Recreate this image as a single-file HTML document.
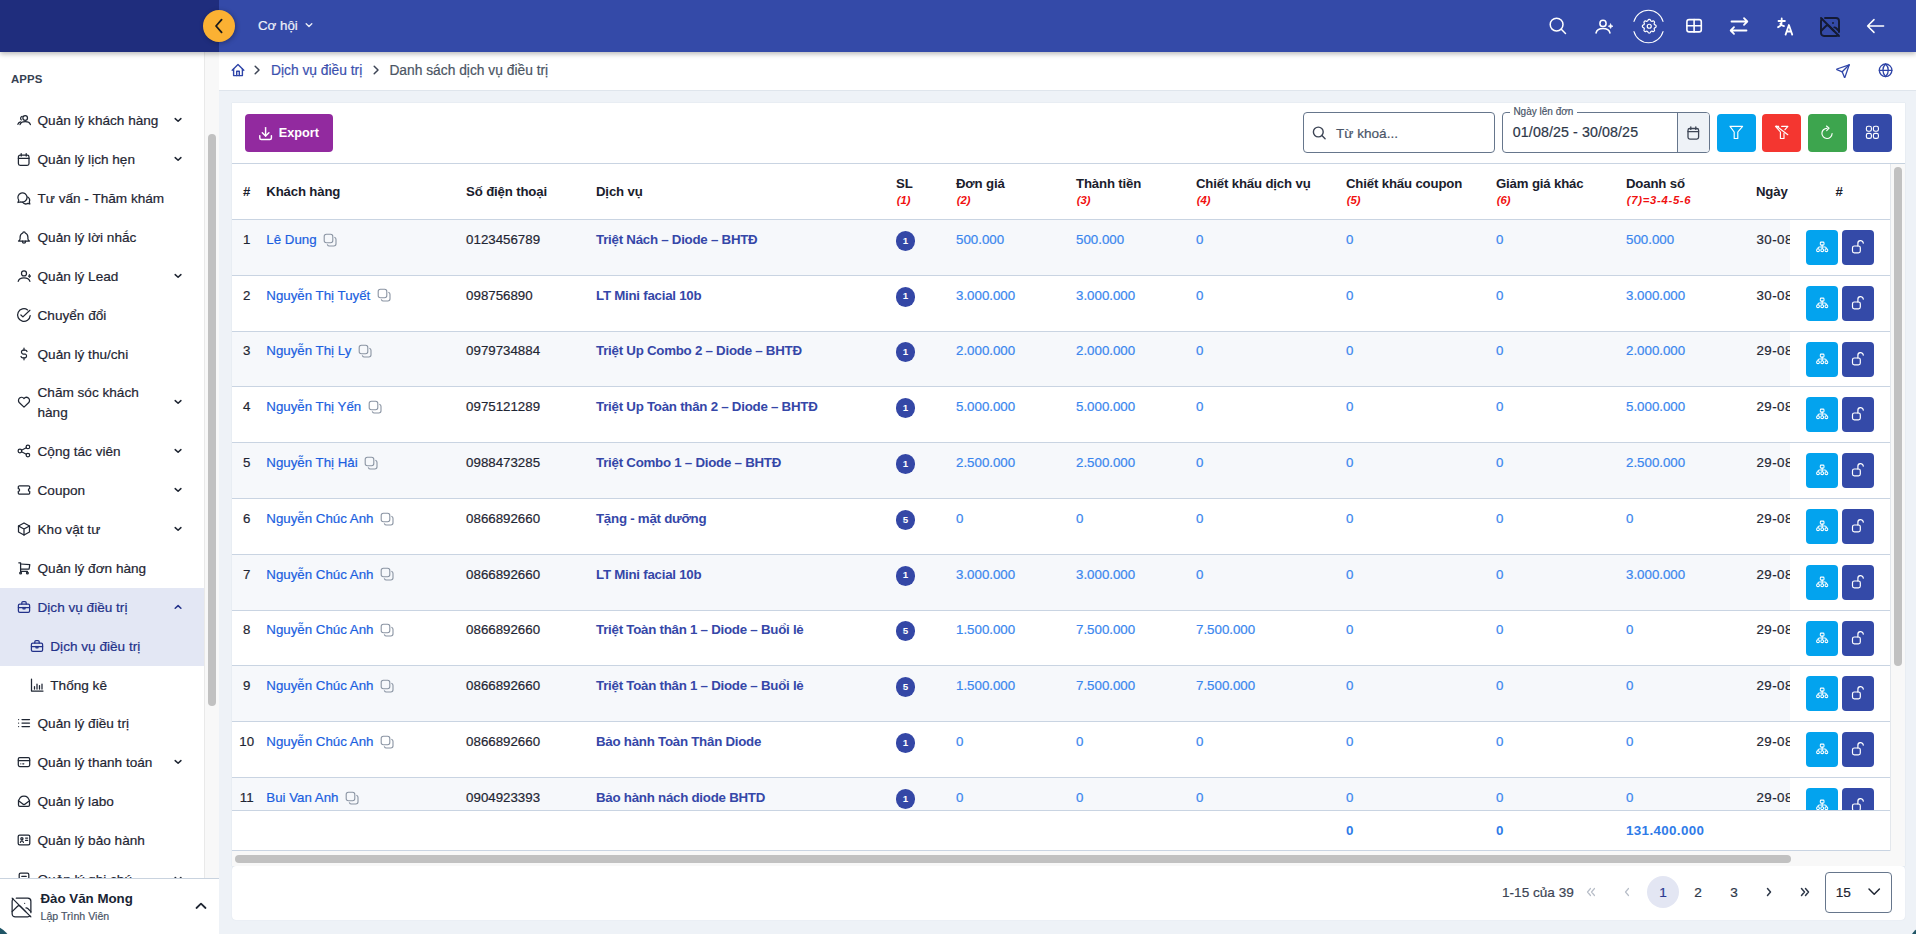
<!DOCTYPE html>
<html><head><meta charset="utf-8"><title>Dịch vụ điều trị</title>
<style>
html,body{margin:0;padding:0;}
body{width:1916px;height:934px;position:relative;overflow:hidden;background:#eef2f7;font-family:"Liberation Sans",sans-serif;}
.t{position:absolute;white-space:nowrap;}
.r{-webkit-text-stroke:0.2px currentColor;}
.i{position:absolute;overflow:visible;}
</style></head><body>
<div style="position:absolute;left:0;top:0;width:1916px;height:52px;background:#344aa8;box-shadow:0 2px 5px rgba(0,0,0,.28);z-index:5"></div>
<div style="position:absolute;left:0;top:0;width:219px;height:52px;background:#1f2d7d;z-index:6"></div>
<div style="position:absolute;left:203px;top:10px;width:32px;height:32px;border-radius:50%;background:#fbb133;box-shadow:1px 1px 5px rgba(0,0,0,.3);z-index:8"></div>
<svg class="i" style="left:203px;top:10px;width:32px;height:32px;color:#1b1b1b;z-index:9" viewBox="0 0 32 32" fill="none" stroke="currentColor" stroke-width="1.8" stroke-linecap="round" stroke-linejoin="round"><path d="M18.6 9.6L13 16l5.6 6.4"/></svg>
<div class="t r" style="left:258px;top:16.39px;font-size:13.3px;line-height:20px;color:#eef0f8;font-weight:400;z-index:7">Cơ hội</div>
<svg class="i" style="left:300px;top:18px;width:16px;height:16px;color:#e8ebf5;z-index:7" viewBox="0 0 16 16" fill="none" stroke="currentColor" stroke-width="1.4" stroke-linecap="round" stroke-linejoin="round"><path d="M6.2 5.8l2.8 2.8l2.8 -2.8"/></svg>
<svg class="i" style="left:1546px;top:14px;width:24px;height:24px;color:#ffffff;z-index:7" viewBox="0 0 24 24" fill="none" stroke="currentColor" stroke-width="1.5" stroke-linecap="round" stroke-linejoin="round"><circle cx="10.6" cy="10.6" r="6.4"/><path d="M15.3 15.3l4.2 4.2"/></svg>
<svg class="i" style="left:1592px;top:14px;width:24px;height:24px;color:#ffffff;z-index:7" viewBox="0 0 24 24" fill="none" stroke="currentColor" stroke-width="1.5" stroke-linecap="round" stroke-linejoin="round"><circle cx="11" cy="9.4" r="3.1"/><path d="M4 19c.7 -3 3.4 -4.5 7 -4.5s6.3 1.5 7 4.5"/><path d="M18.6 10l.7 1.6l1.6 .6l-1.6 .6l-.7 1.6l-.7 -1.6l-1.6 -.6l1.6 -.6z" fill="currentColor" stroke-width=".8"/></svg>
<svg class="i" style="left:1632px;top:10px;width:33px;height:33px;color:#ffffff;z-index:7" viewBox="0 0 33 33" fill="none" stroke="currentColor" stroke-width="1.1" stroke-linecap="round" stroke-linejoin="round"><path d="M2 11.4A15 15 0 0 1 31 11.4"/><path d="M31 21.6A15 15 0 0 1 2 21.6"/></svg>
<svg class="i" style="left:1639.5px;top:17px;width:18.5px;height:18.5px;color:#ffffff;z-index:7" viewBox="0 0 24 24" fill="none" stroke="currentColor" stroke-width="1.6" stroke-linecap="round" stroke-linejoin="round"><path d="M10.325 4.317c.426 -1.756 2.924 -1.756 3.35 0a1.724 1.724 0 0 0 2.573 1.066c1.543 -.94 3.31 .826 2.37 2.37a1.724 1.724 0 0 0 1.065 2.572c1.756 .426 1.756 2.924 0 3.35a1.724 1.724 0 0 0 -1.066 2.573c.94 1.543 -.826 3.31 -2.37 2.37a1.724 1.724 0 0 0 -2.572 1.065c-.426 1.756 -2.924 1.756 -3.35 0a1.724 1.724 0 0 0 -2.573 -1.066c-1.543 .94 -3.31 -.826 -2.37 -2.37a1.724 1.724 0 0 0 -1.065 -2.572c-1.756 -.426 -1.756 -2.924 0 -3.35a1.724 1.724 0 0 0 1.066 -2.573c-.94 -1.543 .826 -3.31 2.37 -2.37c1 .608 2.296 .07 2.572 -1.065z"/><circle cx="12" cy="12" r="2.6"/></svg>
<svg class="i" style="left:1684px;top:16px;width:20px;height:20px;color:#ffffff;z-index:7" viewBox="0 0 20 20" fill="none" stroke="currentColor" stroke-width="1.6" stroke-linecap="round" stroke-linejoin="round"><rect x="2.9" y="3.6" width="14.4" height="12.3" rx="2.2"/><path d="M2.9 9.75h14.4M10.1 3.6v12.3"/></svg>
<svg class="i" style="left:1729px;top:16px;width:20px;height:20px;color:#ffffff;z-index:7" viewBox="0 0 20 20" fill="none" stroke="currentColor" stroke-width="1.8" stroke-linecap="round" stroke-linejoin="round"><path d="M18 5.5h-15.5M15 2.2l3.3 3.3l-3.3 3.3M2 14.5h15.5M5 11.2l-3.3 3.3l3.3 3.3"/></svg>
<svg class="i" style="left:1777px;top:16.5px;width:20px;height:22px;color:#ffffff;z-index:7" viewBox="0 0 20 22" fill="none" stroke="currentColor" stroke-width="1.8" stroke-linecap="round" stroke-linejoin="round"><path d="M1.5 4h6.4M4.7 1.5v2.5c0 3 -1.4 5.4 -3.6 6.2"/><path d="M3.4 6.6c.6 1.4 2.2 2.2 3.6 2.5"/><path d="M8.6 17.6l3.3 -9.6l3.3 9.6M9.7 14.5h4.4"/></svg>
<svg class="i" style="left:1817.5px;top:14.5px;width:24px;height:24px;color:#141a33;z-index:7" viewBox="0 0 24 24" fill="none" stroke="currentColor" stroke-width="1.9" stroke-linecap="round" stroke-linejoin="round"><path d="M15 8h.01"/><path d="M7 3h11a3 3 0 0 1 3 3v11m-.856 3.099a2.991 2.991 0 0 1 -2.144 .901h-12a3 3 0 0 1 -3 -3v-12c0 -.845 .349 -1.608 .91 -2.153"/><path d="M3 16l5 -5c.928 -.893 2.072 -.893 3 0l5 5"/><path d="M16.33 12.338c.574 -.054 1.155 .166 1.67 .662l3 3"/><path d="M3 3l18 18"/></svg>
<svg class="i" style="left:1866px;top:16px;width:20px;height:20px;color:#ffffff;z-index:7" viewBox="0 0 20 20" fill="none" stroke="currentColor" stroke-width="1.5" stroke-linecap="round" stroke-linejoin="round"><path d="M1.6 10h16M1.6 10l6.4 6.4M1.6 10l6.4 -6.4"/></svg>
<div style="position:absolute;left:0;top:52px;width:219px;height:882px;background:#fff;z-index:2"></div>
<div style="position:absolute;left:204px;top:52px;width:15px;height:826px;background:#f8f8f8;border-left:1px solid #e9e9e9;box-sizing:border-box;z-index:3"></div>
<div style="position:absolute;left:208px;top:134px;width:8px;height:572px;background:#c1c1c1;border-radius:4px;z-index:3"></div>
<div class="t" style="left:11px;top:70.65px;font-size:11.4px;line-height:17px;color:#364152;font-weight:700;z-index:3;letter-spacing:.1px">APPS</div>
<div style="position:absolute;left:0;top:588px;width:204px;height:77.6px;background:#e3e7f4;z-index:3"></div>
<svg class="i" style="left:17px;top:113.0px;width:14px;height:14px;color:#1f2633;z-index:4" viewBox="0 0 14 14" fill="none" stroke="currentColor" stroke-width="1.25" stroke-linecap="round" stroke-linejoin="round"><circle cx="8.2" cy="5" r="2.3"/><path d="M3 11.6c.6 -1.8 2.6 -2.9 5.2 -2.9s4.6 1.1 5.2 2.9"/><path d="M5.2 3.3a2.1 2.1 0 0 0 -.9 3.6"/><path d="M.9 11.3c.4 -1.2 1.4 -2 2.6 -2.4"/></svg>
<div class="t r" style="left:37.5px;top:111.09px;font-size:13.6px;line-height:20px;color:#1f2633;font-weight:400;z-index:4">Quản lý khách hàng</div>
<svg class="i" style="left:172px;top:114.0px;width:12px;height:12px;color:#1f2633;z-index:4" viewBox="0 0 12 12" fill="none" stroke="currentColor" stroke-width="1.5" stroke-linecap="round" stroke-linejoin="round"><path d="M3.2 4.6l2.9 2.7l2.8 -2.7"/></svg>
<svg class="i" style="left:17px;top:152.0px;width:14px;height:14px;color:#1f2633;z-index:4" viewBox="0 0 14 14" fill="none" stroke="currentColor" stroke-width="1.25" stroke-linecap="round" stroke-linejoin="round"><rect x="1.4" y="3.2" width="10.6" height="10.2" rx="1.8"/><path d="M1.4 6.4h10.6M4.2 1.6v2.4M9.2 1.6v2.4"/></svg>
<div class="t r" style="left:37.5px;top:150.09px;font-size:13.6px;line-height:20px;color:#1f2633;font-weight:400;z-index:4">Quản lý lịch hẹn</div>
<svg class="i" style="left:172px;top:153.0px;width:12px;height:12px;color:#1f2633;z-index:4" viewBox="0 0 12 12" fill="none" stroke="currentColor" stroke-width="1.5" stroke-linecap="round" stroke-linejoin="round"><path d="M3.2 4.6l2.9 2.7l2.8 -2.7"/></svg>
<svg class="i" style="left:17px;top:191.0px;width:14px;height:14px;color:#1f2633;z-index:4" viewBox="0 0 14 14" fill="none" stroke="currentColor" stroke-width="1.25" stroke-linecap="round" stroke-linejoin="round"><path d="M1 11.5l.8 -2.2a4.6 4.6 0 1 1 2 1.5z"/><path d="M5.5 11.2a4.2 4.2 0 0 0 5.3 1.2l2 .6l-.5 -2a4.2 4.2 0 0 0 -1.6 -5.1"/></svg>
<div class="t r" style="left:37.5px;top:189.09px;font-size:13.6px;line-height:20px;color:#1f2633;font-weight:400;z-index:4">Tư vấn - Thăm khám</div>
<svg class="i" style="left:17px;top:230.0px;width:14px;height:14px;color:#1f2633;z-index:4" viewBox="0 0 14 14" fill="none" stroke="currentColor" stroke-width="1.25" stroke-linecap="round" stroke-linejoin="round"><path d="M5.8 3a1.2 1.2 0 1 1 2.4 0a4.6 4.6 0 0 1 2.7 4v1.8a2.6 2.6 0 0 0 1.6 2.2h-11a2.6 2.6 0 0 0 1.6 -2.2v-1.8a4.6 4.6 0 0 1 2.7 -4"/><path d="M5.4 11v.4a1.6 1.6 0 0 0 3.2 0v-.4"/></svg>
<div class="t r" style="left:37.5px;top:228.09px;font-size:13.6px;line-height:20px;color:#1f2633;font-weight:400;z-index:4">Quản lý lời nhắc</div>
<svg class="i" style="left:17px;top:269.0px;width:14px;height:14px;color:#1f2633;z-index:4" viewBox="0 0 14 14" fill="none" stroke="currentColor" stroke-width="1.25" stroke-linecap="round" stroke-linejoin="round"><circle cx="7" cy="4.4" r="2.5"/><path d="M1.2 12.3C1.8 9.7 4 8.8 7 8.8S12.2 9.7 12.9 12.3"/><path d="M12.5 5.4l.5 1.3l1 .4l-1 .4l-.5 1.3l-.5 -1.3l-1 -.4l1 -.4z" fill="currentColor" stroke-width=".6"/></svg>
<div class="t r" style="left:37.5px;top:267.09px;font-size:13.6px;line-height:20px;color:#1f2633;font-weight:400;z-index:4">Quản lý Lead</div>
<svg class="i" style="left:172px;top:270.0px;width:12px;height:12px;color:#1f2633;z-index:4" viewBox="0 0 12 12" fill="none" stroke="currentColor" stroke-width="1.5" stroke-linecap="round" stroke-linejoin="round"><path d="M3.2 4.6l2.9 2.7l2.8 -2.7"/></svg>
<svg class="i" style="left:17px;top:308.0px;width:14px;height:14px;color:#1f2633;z-index:4" viewBox="0 0 14 14" fill="none" stroke="currentColor" stroke-width="1.25" stroke-linecap="round" stroke-linejoin="round"><path d="M13.2 7.6A6.3 6.3 0 1 1 10.6 1.9"/><path d="M3.9 7l2 1.9l7 -6.6"/></svg>
<div class="t r" style="left:37.5px;top:306.09px;font-size:13.6px;line-height:20px;color:#1f2633;font-weight:400;z-index:4">Chuyển đổi</div>
<svg class="i" style="left:17px;top:347.0px;width:14px;height:14px;color:#1f2633;z-index:4" viewBox="0 0 14 14" fill="none" stroke="currentColor" stroke-width="1.25" stroke-linecap="round" stroke-linejoin="round"><path d="M10 4.5a2 2 0 0 0 -1.8 -1.3h-2.4a2 2 0 0 0 0 3.8h2.4a2 2 0 0 1 0 3.8h-2.4a2 2 0 0 1 -1.8 -1.3"/><path d="M7 1.2v2m0 7.6v2"/></svg>
<div class="t r" style="left:37.5px;top:345.09px;font-size:13.6px;line-height:20px;color:#1f2633;font-weight:400;z-index:4">Quản lý thu/chi</div>
<svg class="i" style="left:17px;top:395.0px;width:14px;height:14px;color:#1f2633;z-index:4" viewBox="0 0 14 14" fill="none" stroke="currentColor" stroke-width="1.25" stroke-linecap="round" stroke-linejoin="round"><path d="M11.8 7.5l-4.8 4.6l-4.8 -4.6a3.1 3.1 0 1 1 4.8 -4a3.1 3.1 0 1 1 4.8 4"/></svg>
<div class="t r" style="left:37.5px;top:383.09px;font-size:13.6px;line-height:20px;color:#1f2633;font-weight:400;z-index:4">Chăm sóc khách<br>hàng</div>
<svg class="i" style="left:172px;top:396.0px;width:12px;height:12px;color:#1f2633;z-index:4" viewBox="0 0 12 12" fill="none" stroke="currentColor" stroke-width="1.5" stroke-linecap="round" stroke-linejoin="round"><path d="M3.2 4.6l2.9 2.7l2.8 -2.7"/></svg>
<svg class="i" style="left:17px;top:444.0px;width:14px;height:14px;color:#1f2633;z-index:4" viewBox="0 0 14 14" fill="none" stroke="currentColor" stroke-width="1.25" stroke-linecap="round" stroke-linejoin="round"><circle cx="2.9" cy="7" r="1.8"/><circle cx="10.9" cy="2.9" r="1.8"/><circle cx="10.9" cy="11.1" r="1.8"/><path d="M4.5 6.2l4.8 -2.5M4.5 7.8l4.8 2.5"/></svg>
<div class="t r" style="left:37.5px;top:442.09px;font-size:13.6px;line-height:20px;color:#1f2633;font-weight:400;z-index:4">Cộng tác viên</div>
<svg class="i" style="left:172px;top:445.0px;width:12px;height:12px;color:#1f2633;z-index:4" viewBox="0 0 12 12" fill="none" stroke="currentColor" stroke-width="1.5" stroke-linecap="round" stroke-linejoin="round"><path d="M3.2 4.6l2.9 2.7l2.8 -2.7"/></svg>
<svg class="i" style="left:17px;top:483.0px;width:14px;height:14px;color:#1f2633;z-index:4" viewBox="0 0 14 14" fill="none" stroke="currentColor" stroke-width="1.25" stroke-linecap="round" stroke-linejoin="round"><path d="M2.6 2.8h8.8a1.3 1.3 0 0 1 1.3 1.3v1.6a1.3 1.3 0 0 0 0 2.6v1.6a1.3 1.3 0 0 1 -1.3 1.3h-8.8a1.3 1.3 0 0 1 -1.3 -1.3v-1.6a1.3 1.3 0 0 0 0 -2.6v-1.6a1.3 1.3 0 0 1 1.3 -1.3"/></svg>
<div class="t r" style="left:37.5px;top:481.09px;font-size:13.6px;line-height:20px;color:#1f2633;font-weight:400;z-index:4">Coupon</div>
<svg class="i" style="left:172px;top:484.0px;width:12px;height:12px;color:#1f2633;z-index:4" viewBox="0 0 12 12" fill="none" stroke="currentColor" stroke-width="1.5" stroke-linecap="round" stroke-linejoin="round"><path d="M3.2 4.6l2.9 2.7l2.8 -2.7"/></svg>
<svg class="i" style="left:17px;top:522.0px;width:14px;height:14px;color:#1f2633;z-index:4" viewBox="0 0 14 14" fill="none" stroke="currentColor" stroke-width="1.25" stroke-linecap="round" stroke-linejoin="round"><path d="M7 1l5.5 3v6l-5.5 3l-5.5 -3v-6z"/><path d="M7 7l5.5 -3M7 7v6M7 7l-5.5 -3"/></svg>
<div class="t r" style="left:37.5px;top:520.09px;font-size:13.6px;line-height:20px;color:#1f2633;font-weight:400;z-index:4">Kho vật tư</div>
<svg class="i" style="left:172px;top:523.0px;width:12px;height:12px;color:#1f2633;z-index:4" viewBox="0 0 12 12" fill="none" stroke="currentColor" stroke-width="1.5" stroke-linecap="round" stroke-linejoin="round"><path d="M3.2 4.6l2.9 2.7l2.8 -2.7"/></svg>
<svg class="i" style="left:17px;top:561.0px;width:14px;height:14px;color:#1f2633;z-index:4" viewBox="0 0 14 14" fill="none" stroke="currentColor" stroke-width="1.25" stroke-linecap="round" stroke-linejoin="round"><circle cx="3.6" cy="12" r=".9"/><circle cx="10.4" cy="12" r=".9"/><path d="M10.4 10.4h-6.8v-8.6h-1.8"/><path d="M3.6 3l9.2 .7l-.7 4.3h-8.5"/></svg>
<div class="t r" style="left:37.5px;top:559.09px;font-size:13.6px;line-height:20px;color:#1f2633;font-weight:400;z-index:4">Quản lý đơn hàng</div>
<svg class="i" style="left:17px;top:600.0px;width:14px;height:14px;color:#23328a;z-index:4" viewBox="0 0 14 14" fill="none" stroke="currentColor" stroke-width="1.25" stroke-linecap="round" stroke-linejoin="round"><rect x="1.4" y="4" width="11.2" height="8.4" rx="1.4"/><path d="M4.8 4v-1.2a1.2 1.2 0 0 1 1.2 -1.2h2a1.2 1.2 0 0 1 1.2 1.2v1.2"/><path d="M1.4 7.6h11.2"/><path d="M6 7.4v1.4h2v-1.4"/></svg>
<div class="t r" style="left:37.5px;top:598.09px;font-size:13.6px;line-height:20px;color:#23328a;font-weight:400;z-index:4">Dịch vụ điều trị</div>
<svg class="i" style="left:172px;top:601.0px;width:12px;height:12px;color:#23328a;z-index:4" viewBox="0 0 12 12" fill="none" stroke="currentColor" stroke-width="1.5" stroke-linecap="round" stroke-linejoin="round"><path d="M3.2 7.3l2.9 -2.7l2.8 2.7"/></svg>
<svg class="i" style="left:30px;top:639.0px;width:14px;height:14px;color:#23328a;z-index:4" viewBox="0 0 14 14" fill="none" stroke="currentColor" stroke-width="1.25" stroke-linecap="round" stroke-linejoin="round"><rect x="1.4" y="4" width="11.2" height="8.4" rx="1.4"/><path d="M4.8 4v-1.2a1.2 1.2 0 0 1 1.2 -1.2h2a1.2 1.2 0 0 1 1.2 1.2v1.2"/><path d="M1.4 7.6h11.2"/><path d="M6 7.4v1.4h2v-1.4"/></svg>
<div class="t r" style="left:50.3px;top:637.09px;font-size:13.6px;line-height:20px;color:#23328a;font-weight:400;z-index:4">Dịch vụ điều trị</div>
<svg class="i" style="left:30px;top:678.0px;width:14px;height:14px;color:#1f2633;z-index:4" viewBox="0 0 14 14" fill="none" stroke="currentColor" stroke-width="1.25" stroke-linecap="round" stroke-linejoin="round"><path d="M1.5 1v12h11.5"/><path d="M4.5 11v-2.5M7 11v-5M9.5 11v-3.5M12 11v-5"/></svg>
<div class="t r" style="left:50.3px;top:676.09px;font-size:13.6px;line-height:20px;color:#1f2633;font-weight:400;z-index:4">Thống kê</div>
<svg class="i" style="left:17px;top:716.0px;width:14px;height:14px;color:#1f2633;z-index:4" viewBox="0 0 14 14" fill="none" stroke="currentColor" stroke-width="1.25" stroke-linecap="round" stroke-linejoin="round"><path d="M5 3.5h7.5M5 7h7.5M5 10.5h7.5M1.6 3.5v.01M1.6 7v.01M1.6 10.5v.01"/></svg>
<div class="t r" style="left:37.5px;top:714.09px;font-size:13.6px;line-height:20px;color:#1f2633;font-weight:400;z-index:4">Quản lý điều trị</div>
<svg class="i" style="left:17px;top:755.0px;width:14px;height:14px;color:#1f2633;z-index:4" viewBox="0 0 14 14" fill="none" stroke="currentColor" stroke-width="1.25" stroke-linecap="round" stroke-linejoin="round"><rect x="1.3" y="2.5" width="11.4" height="9" rx="1.4"/><path d="M1.3 5.6h11.4M3.8 8.8h.01M5.8 8.8h1"/></svg>
<div class="t r" style="left:37.5px;top:753.09px;font-size:13.6px;line-height:20px;color:#1f2633;font-weight:400;z-index:4">Quản lý thanh toán</div>
<svg class="i" style="left:172px;top:756.0px;width:12px;height:12px;color:#1f2633;z-index:4" viewBox="0 0 12 12" fill="none" stroke="currentColor" stroke-width="1.5" stroke-linecap="round" stroke-linejoin="round"><path d="M3.2 4.6l2.9 2.7l2.8 -2.7"/></svg>
<svg class="i" style="left:17px;top:794.0px;width:14px;height:14px;color:#1f2633;z-index:4" viewBox="0 0 14 14" fill="none" stroke="currentColor" stroke-width="1.25" stroke-linecap="round" stroke-linejoin="round"><path d="M1.5 6.5l1.8 -3a5 4 0 0 1 7.4 0l1.8 3v4.6a1.3 1.3 0 0 1 -1.3 1.3h-8.4a1.3 1.3 0 0 1 -1.3 -1.3z"/><path d="M1.5 6.8l4 3a2.2 2.2 0 0 0 3 0l4 -3"/></svg>
<div class="t r" style="left:37.5px;top:792.09px;font-size:13.6px;line-height:20px;color:#1f2633;font-weight:400;z-index:4">Quản lý labo</div>
<svg class="i" style="left:17px;top:833.0px;width:14px;height:14px;color:#1f2633;z-index:4" viewBox="0 0 14 14" fill="none" stroke="currentColor" stroke-width="1.25" stroke-linecap="round" stroke-linejoin="round"><rect x="1.2" y="2.2" width="11.6" height="9.6" rx="1.4"/><circle cx="4.9" cy="5.7" r="1.1"/><path d="M3.4 9.4c.3 -1 .9 -1.6 1.5 -1.6s1.2 .6 1.5 1.6M8.6 5h2M8.6 7.4h2"/></svg>
<div class="t r" style="left:37.5px;top:831.09px;font-size:13.6px;line-height:20px;color:#1f2633;font-weight:400;z-index:4">Quản lý bảo hành</div>
<svg class="i" style="left:17px;top:872.0px;width:14px;height:14px;color:#1f2633;z-index:4" viewBox="0 0 14 14" fill="none" stroke="currentColor" stroke-width="1.25" stroke-linecap="round" stroke-linejoin="round"><rect x="2.2" y="1.2" width="9.6" height="11.6" rx="1.4"/><path d="M4.8 4.4h4.4M4.8 7h4.4"/></svg>
<div class="t r" style="left:37.5px;top:870.09px;font-size:13.6px;line-height:20px;color:#1f2633;font-weight:400;z-index:4">Quản lý ghi chú</div>
<svg class="i" style="left:172px;top:873.0px;width:12px;height:12px;color:#1f2633;z-index:4" viewBox="0 0 12 12" fill="none" stroke="currentColor" stroke-width="1.5" stroke-linecap="round" stroke-linejoin="round"><path d="M3.2 4.6l2.9 2.7l2.8 -2.7"/></svg>
<div style="position:absolute;left:0;top:878px;width:219px;height:56px;background:#fff;border-top:1px solid #c9d3df;box-sizing:border-box;z-index:6"></div>
<svg class="i" style="left:8.5px;top:894.5px;width:25px;height:25px;color:#1f2633;z-index:7" viewBox="0 0 24 24" fill="none" stroke="currentColor" stroke-width="1.2" stroke-linecap="round" stroke-linejoin="round"><path d="M15 8h.01"/><path d="M7 3h11a3 3 0 0 1 3 3v11m-.856 3.099a2.991 2.991 0 0 1 -2.144 .901h-12a3 3 0 0 1 -3 -3v-12c0 -.845 .349 -1.608 .91 -2.153"/><path d="M3 16l5 -5c.928 -.893 2.072 -.893 3 0l5 5"/><path d="M16.33 12.338c.574 -.054 1.155 .166 1.67 .662l3 3"/><path d="M3 3l18 18"/></svg>
<div class="t" style="left:40.5px;top:888.99px;font-size:13.3px;line-height:20px;color:#1a2433;font-weight:700;z-index:7">Đào Văn Mong</div>
<div class="t r" style="left:40.5px;top:907.83px;font-size:10.6px;line-height:16px;color:#4a5568;font-weight:400;z-index:7">Lập Trình Viên</div>
<svg class="i" style="left:194px;top:899px;width:14px;height:14px;color:#1f2633;z-index:7" viewBox="0 0 14 14" fill="none" stroke="currentColor" stroke-width="1.8" stroke-linecap="round" stroke-linejoin="round"><path d="M2.5 9l4.5 -4.3l4.5 4.3"/></svg>
<div style="position:absolute;left:-42px;top:924px;width:56px;height:56px;border-radius:50%;background:#1f5566;z-index:8"></div>
<div style="position:absolute;left:1907px;top:922px;width:56px;height:56px;border-radius:50%;background:#1f5566;z-index:8"></div>
<div style="position:absolute;left:219px;top:52px;width:1697px;height:38.5px;background:#fff;border-bottom:1px solid #dfe5ec;box-sizing:border-box;z-index:1"></div>
<svg class="i" style="left:230px;top:62px;width:16px;height:16px;color:#2f45a8;z-index:2" viewBox="0 0 16 16" fill="none" stroke="currentColor" stroke-width="1.4" stroke-linecap="round" stroke-linejoin="round"><path d="M2.2 8.2L8 2.6l5.8 5.6"/><path d="M3.6 7v6.6h8.8v-6.6"/><path d="M6.7 13.6v-4.4h2.6v4.4"/></svg>
<svg class="i" style="left:251px;top:62px;width:12px;height:16px;color:#3d4555;z-index:2" viewBox="0 0 12 16" fill="none" stroke="currentColor" stroke-width="1.5" stroke-linecap="round" stroke-linejoin="round"><path d="M4.2 4.2l3.8 3.8l-3.8 3.8"/></svg>
<div class="t r" style="left:271px;top:60.12px;font-size:13.8px;line-height:21px;color:#3b50ae;font-weight:400;z-index:2">Dịch vụ điều trị</div>
<svg class="i" style="left:370px;top:62px;width:12px;height:16px;color:#3d4555;z-index:2" viewBox="0 0 12 16" fill="none" stroke="currentColor" stroke-width="1.5" stroke-linecap="round" stroke-linejoin="round"><path d="M4.2 4.2l3.8 3.8l-3.8 3.8"/></svg>
<div class="t r" style="left:389.4px;top:60.12px;font-size:13.8px;line-height:21px;color:#4b5563;font-weight:400;z-index:2">Danh sách dịch vụ điều trị</div>
<svg class="i" style="left:1835px;top:63px;width:16px;height:16px;color:#2f45a8;z-index:2" viewBox="0 0 16 16" fill="none" stroke="currentColor" stroke-width="1.3" stroke-linecap="round" stroke-linejoin="round"><path d="M7.2 8.8l7 -7"/><path d="M14.2 1.8l-4.2 12.3a.4 .4 0 0 1 -.7 0l-2.1 -5.3l-5.3 -2.1a.4 .4 0 0 1 0 -.7z"/></svg>
<svg class="i" style="left:1877px;top:62px;width:16px;height:16px;color:#2f45a8;z-index:2" viewBox="0 0 16 16" fill="none" stroke="currentColor" stroke-width="1.3" stroke-linecap="round" stroke-linejoin="round"><circle cx="8.6" cy="8.3" r="6.3"/><path d="M2.3 8.3h12.6"/><path d="M8.6 2a8.7 8.7 0 0 1 0 12.6a8.7 8.7 0 0 1 0 -12.6"/></svg>
<div style="position:absolute;left:232px;top:103px;width:1673px;height:763px;background:#fff;box-shadow:0 0 1px rgba(120,140,170,.25);z-index:1"></div>
<div style="position:absolute;left:232px;top:866px;width:1673px;height:54px;background:#fff;border-radius:4px;box-shadow:0 0 1px rgba(120,140,170,.25);z-index:1"></div>
<div style="position:absolute;left:245px;top:114px;width:88px;height:38px;background:#922a9f;border-radius:4px;z-index:2"></div>
<svg class="i" style="left:256.5px;top:124.5px;width:17px;height:17px;color:#fff;z-index:3" viewBox="0 0 17 17" fill="none" stroke="currentColor" stroke-width="1.45" stroke-linecap="round" stroke-linejoin="round"><path d="M2.8 10.6v2.4a1.5 1.5 0 0 0 1.5 1.5h8.6a1.5 1.5 0 0 0 1.5 -1.5v-2.4"/><path d="M5.3 7.8l3.3 3.3l3.3 -3.3"/><path d="M8.6 2.6v8.5"/></svg>
<div class="t" style="left:278.8px;top:123.70px;font-size:12.7px;line-height:19px;color:#fff;font-weight:700;z-index:3">Export</div>
<div style="position:absolute;left:1303px;top:112px;width:192px;height:41px;border:1px solid #66768c;border-radius:4px;box-sizing:border-box;z-index:2"></div>
<svg class="i" style="left:1310px;top:124px;width:18px;height:18px;color:#3d4555;z-index:3" viewBox="0 0 18 18" fill="none" stroke="currentColor" stroke-width="1.4" stroke-linecap="round" stroke-linejoin="round"><circle cx="8.3" cy="8" r="4.9"/><path d="M11.9 11.6l3.2 3.2"/></svg>
<div class="t r" style="left:1336px;top:124.19px;font-size:13.6px;line-height:20px;color:#4a5568;font-weight:400;z-index:3">Từ khoá...</div>
<div style="position:absolute;left:1502px;top:112px;width:208px;height:41px;border:1px solid #66768c;border-radius:4px;box-sizing:border-box;z-index:2;overflow:hidden"><div style="position:absolute;left:174px;top:0;width:33px;height:39px;background:#eef2f7;border-left:1px solid #66768c"></div></div>
<div style="position:absolute;left:1510px;top:105px;width:67px;height:12px;background:#fff;z-index:3"></div>
<div class="t r" style="left:1513.4px;top:105.53px;font-size:10px;line-height:12px;color:#4a5568;font-weight:400;z-index:4">Ngày lên đơn</div>
<div class="t r" style="left:1512.8px;top:121.78px;font-size:14.2px;line-height:21px;color:#2d3748;font-weight:400;z-index:3;letter-spacing:.12px">01/08/25 - 30/08/25</div>
<svg class="i" style="left:1685px;top:124px;width:16px;height:18px;color:#3d4555;z-index:3" viewBox="0 0 16 18" fill="none" stroke="currentColor" stroke-width="1.3" stroke-linecap="round" stroke-linejoin="round"><rect x="3" y="4.5" width="10.6" height="10.6" rx="1.8"/><path d="M3 7.6h10.6M5.8 2.8v2.6M10.8 2.8v2.6"/></svg>
<div style="position:absolute;left:1717px;top:114px;width:39px;height:38px;background:#03a3ee;border-radius:4px;z-index:2"></div>
<svg class="i" style="left:1717px;top:114px;width:39px;height:38px;color:#fff;z-index:3" viewBox="0 0 39 38" fill="none" stroke="currentColor" stroke-width="1.15" stroke-linecap="round" stroke-linejoin="round"><path d="M13 12.3H25.6L20.8 18V24.5H17.2V18Z"/></svg>
<div style="position:absolute;left:1762px;top:114px;width:39px;height:38px;background:#f43630;border-radius:4px;z-index:2"></div>
<svg class="i" style="left:1762px;top:114px;width:39px;height:38px;color:#fff;z-index:3" viewBox="0 0 39 38" fill="none" stroke="currentColor" stroke-width="1.15" stroke-linecap="round" stroke-linejoin="round"><path d="M13.5 12.3h3.2M19.6 12.3h6.3l-2.9 3.4M22 19.3v5.2h-3.6v-6.5l-4.9 -5.7"/><path d="M14.5 12.2l11.3 8.5"/></svg>
<div style="position:absolute;left:1808px;top:114px;width:39px;height:38px;background:#3da54e;border-radius:4px;z-index:2"></div>
<svg class="i" style="left:1808px;top:114px;width:39px;height:38px;color:#fff;z-index:3" viewBox="0 0 39 38" fill="none" stroke="currentColor" stroke-width="1.15" stroke-linecap="round" stroke-linejoin="round"><path d="M19 14.3A5.1 5.1 0 1 0 24.1 19.6"/><path d="M18.5 12l2.6 2.2l-2.4 2.4"/></svg>
<div style="position:absolute;left:1853px;top:114px;width:39px;height:38px;background:#344aa8;border-radius:4px;z-index:2"></div>
<svg class="i" style="left:1853px;top:114px;width:39px;height:38px;color:#fff;z-index:3" viewBox="0 0 39 38" fill="none" stroke="currentColor" stroke-width="1.15" stroke-linecap="round" stroke-linejoin="round"><rect x="13.4" y="12.2" width="5" height="5" rx="1.7"/><rect x="20.4" y="12.2" width="5" height="5" rx="1.7"/><rect x="13.4" y="19.4" width="5" height="5" rx="1.7"/><rect x="20.4" y="19.4" width="5" height="5" rx="1.7"/></svg>
<div style="position:absolute;left:232px;top:163px;width:1673px;height:1px;background:#c6d2df;z-index:2"></div>
<div style="position:absolute;left:232px;top:163px;width:1658px;height:688px;overflow:hidden;z-index:2">
<div style="position:absolute;left:0px;top:56.00px;width:1558px;height:56px;background:#f6f8fb"></div>
<div class="t r" style="left:14.699999999999989px;top:66.89px;font-size:13.3px;line-height:20px;color:#1f2633;font-weight:400;transform:translateX(-50%)">1</div>
<div class="t r" style="left:34.30000000000001px;top:66.89px;font-size:13.3px;line-height:20px;color:#1b5fe0;font-weight:400;">Lê Dung</div>
<svg class="i" style="left:91.08437500000002px;top:69.5px;width:14px;height:14px;color:#8a94a3;" viewBox="0 0 14 14" fill="none" stroke="currentColor" stroke-width="1.1" stroke-linecap="round" stroke-linejoin="round"><rect x="1.2" y="1.2" width="8.6" height="8.6" rx="2.2"/><path d="M11.8 4.4a2.2 2.2 0 0 1 1.2 2v4.4a2.2 2.2 0 0 1 -2.2 2.2h-4.4a2.2 2.2 0 0 1 -2 -1.2"/></svg>
<div class="t r" style="left:234.10000000000002px;top:66.89px;font-size:13.3px;line-height:20px;color:#1f2633;font-weight:400;">0123456789</div>
<div class="t" style="left:364px;top:66.89px;font-size:13.3px;line-height:20px;color:#3547a8;font-weight:700;letter-spacing:-.25px">Triệt Nách – Diode – BHTĐ</div>
<div style="position:absolute;left:663.7px;top:67.70px;width:19.8px;height:20px;background:#3447a6;border-radius:50%"></div>
<div class="t" style="left:673.6px;top:71.60px;font-size:9.8px;line-height:12px;color:#fff;font-weight:700;transform:translateX(-50%)">1</div>
<div class="t r" style="left:724px;top:66.89px;font-size:13.3px;line-height:20px;color:#3a86ee;font-weight:400;">500.000</div>
<div class="t r" style="left:844px;top:66.89px;font-size:13.3px;line-height:20px;color:#3a86ee;font-weight:400;">500.000</div>
<div class="t r" style="left:964px;top:66.89px;font-size:13.3px;line-height:20px;color:#3a86ee;font-weight:400;">0</div>
<div class="t r" style="left:1114px;top:66.89px;font-size:13.3px;line-height:20px;color:#3a86ee;font-weight:400;">0</div>
<div class="t r" style="left:1264px;top:66.89px;font-size:13.3px;line-height:20px;color:#3a86ee;font-weight:400;">0</div>
<div class="t r" style="left:1394px;top:66.89px;font-size:13.3px;line-height:20px;color:#3a86ee;font-weight:400;">500.000</div>
<div class="t r" style="left:1524.4px;top:66.89px;font-size:13.3px;line-height:20px;color:#1f2633;font-weight:400;letter-spacing:.5px">30-08-2025 09:00</div>
<div style="position:absolute;left:1558px;top:56.00px;width:100px;height:56px;background:#fff"></div>
<div style="position:absolute;left:1574px;top:66.90px;width:32px;height:35px;background:#03a3ee;border-radius:4px"></div>
<div style="position:absolute;left:1610px;top:66.90px;width:32px;height:35px;background:#344aa8;border-radius:4px"></div>
<svg class="i" style="left:1574px;top:66.9px;width:32px;height:35px;color:#fff;" viewBox="0 0 32 35" fill="none" stroke="currentColor" stroke-width="1.05" stroke-linecap="round" stroke-linejoin="round"><rect x="14.3" y="12.1" width="3.7" height="3" rx=".8"/><path d="M16.15 15.1v3.5"/><path d="M12 18.7v-.4a1.3 1.3 0 0 1 1.3 -1.3h5.7a1.3 1.3 0 0 1 1.3 1.3v.4"/><circle cx="12" cy="20.2" r="1.4"/><circle cx="16.2" cy="20.2" r="1.4"/><circle cx="20.4" cy="20.2" r="1.4"/></svg>
<svg class="i" style="left:1610px;top:66.9px;width:32px;height:35px;color:#fff;" viewBox="0 0 32 35" fill="none" stroke="currentColor" stroke-width="1.2" stroke-linecap="round" stroke-linejoin="round"><rect x="10.5" y="16" width="7.8" height="6.8" rx="1.8"/><path d="M15.9 16v-2.3a2.7 2.7 0 0 1 5.4 -.6"/></svg>
<div style="position:absolute;left:0px;top:112.00px;width:1558px;height:56px;background:#ffffff"></div>
<div class="t r" style="left:14.699999999999989px;top:122.69px;font-size:13.3px;line-height:20px;color:#1f2633;font-weight:400;transform:translateX(-50%)">2</div>
<div class="t r" style="left:34.30000000000001px;top:122.69px;font-size:13.3px;line-height:20px;color:#1b5fe0;font-weight:400;">Nguyễn Thị Tuyết</div>
<svg class="i" style="left:144.79531250000002px;top:125.30000000000001px;width:14px;height:14px;color:#8a94a3;" viewBox="0 0 14 14" fill="none" stroke="currentColor" stroke-width="1.1" stroke-linecap="round" stroke-linejoin="round"><rect x="1.2" y="1.2" width="8.6" height="8.6" rx="2.2"/><path d="M11.8 4.4a2.2 2.2 0 0 1 1.2 2v4.4a2.2 2.2 0 0 1 -2.2 2.2h-4.4a2.2 2.2 0 0 1 -2 -1.2"/></svg>
<div class="t r" style="left:234.10000000000002px;top:122.69px;font-size:13.3px;line-height:20px;color:#1f2633;font-weight:400;">098756890</div>
<div class="t" style="left:364px;top:122.69px;font-size:13.3px;line-height:20px;color:#3547a8;font-weight:700;letter-spacing:-.25px">LT Mini facial 10b</div>
<div style="position:absolute;left:663.7px;top:123.50px;width:19.8px;height:20px;background:#3447a6;border-radius:50%"></div>
<div class="t" style="left:673.6px;top:127.40px;font-size:9.8px;line-height:12px;color:#fff;font-weight:700;transform:translateX(-50%)">1</div>
<div class="t r" style="left:724px;top:122.69px;font-size:13.3px;line-height:20px;color:#3a86ee;font-weight:400;">3.000.000</div>
<div class="t r" style="left:844px;top:122.69px;font-size:13.3px;line-height:20px;color:#3a86ee;font-weight:400;">3.000.000</div>
<div class="t r" style="left:964px;top:122.69px;font-size:13.3px;line-height:20px;color:#3a86ee;font-weight:400;">0</div>
<div class="t r" style="left:1114px;top:122.69px;font-size:13.3px;line-height:20px;color:#3a86ee;font-weight:400;">0</div>
<div class="t r" style="left:1264px;top:122.69px;font-size:13.3px;line-height:20px;color:#3a86ee;font-weight:400;">0</div>
<div class="t r" style="left:1394px;top:122.69px;font-size:13.3px;line-height:20px;color:#3a86ee;font-weight:400;">3.000.000</div>
<div class="t r" style="left:1524.4px;top:122.69px;font-size:13.3px;line-height:20px;color:#1f2633;font-weight:400;letter-spacing:.5px">30-08-2025 09:00</div>
<div style="position:absolute;left:1558px;top:112.00px;width:100px;height:56px;background:#fff"></div>
<div style="position:absolute;left:1574px;top:122.70px;width:32px;height:35px;background:#03a3ee;border-radius:4px"></div>
<div style="position:absolute;left:1610px;top:122.70px;width:32px;height:35px;background:#344aa8;border-radius:4px"></div>
<svg class="i" style="left:1574px;top:122.70000000000005px;width:32px;height:35px;color:#fff;" viewBox="0 0 32 35" fill="none" stroke="currentColor" stroke-width="1.05" stroke-linecap="round" stroke-linejoin="round"><rect x="14.3" y="12.1" width="3.7" height="3" rx=".8"/><path d="M16.15 15.1v3.5"/><path d="M12 18.7v-.4a1.3 1.3 0 0 1 1.3 -1.3h5.7a1.3 1.3 0 0 1 1.3 1.3v.4"/><circle cx="12" cy="20.2" r="1.4"/><circle cx="16.2" cy="20.2" r="1.4"/><circle cx="20.4" cy="20.2" r="1.4"/></svg>
<svg class="i" style="left:1610px;top:122.70000000000005px;width:32px;height:35px;color:#fff;" viewBox="0 0 32 35" fill="none" stroke="currentColor" stroke-width="1.2" stroke-linecap="round" stroke-linejoin="round"><rect x="10.5" y="16" width="7.8" height="6.8" rx="1.8"/><path d="M15.9 16v-2.3a2.7 2.7 0 0 1 5.4 -.6"/></svg>
<div style="position:absolute;left:0px;top:168.00px;width:1558px;height:55px;background:#f6f8fb"></div>
<div class="t r" style="left:14.699999999999989px;top:178.49px;font-size:13.3px;line-height:20px;color:#1f2633;font-weight:400;transform:translateX(-50%)">3</div>
<div class="t r" style="left:34.30000000000001px;top:178.49px;font-size:13.3px;line-height:20px;color:#1b5fe0;font-weight:400;">Nguyễn Thị Ly</div>
<svg class="i" style="left:125.8203125px;top:181.09999999999997px;width:14px;height:14px;color:#8a94a3;" viewBox="0 0 14 14" fill="none" stroke="currentColor" stroke-width="1.1" stroke-linecap="round" stroke-linejoin="round"><rect x="1.2" y="1.2" width="8.6" height="8.6" rx="2.2"/><path d="M11.8 4.4a2.2 2.2 0 0 1 1.2 2v4.4a2.2 2.2 0 0 1 -2.2 2.2h-4.4a2.2 2.2 0 0 1 -2 -1.2"/></svg>
<div class="t r" style="left:234.10000000000002px;top:178.49px;font-size:13.3px;line-height:20px;color:#1f2633;font-weight:400;">0979734884</div>
<div class="t" style="left:364px;top:178.49px;font-size:13.3px;line-height:20px;color:#3547a8;font-weight:700;letter-spacing:-.25px">Triệt Up Combo 2 – Diode – BHTĐ</div>
<div style="position:absolute;left:663.7px;top:179.30px;width:19.8px;height:20px;background:#3447a6;border-radius:50%"></div>
<div class="t" style="left:673.6px;top:183.20px;font-size:9.8px;line-height:12px;color:#fff;font-weight:700;transform:translateX(-50%)">1</div>
<div class="t r" style="left:724px;top:178.49px;font-size:13.3px;line-height:20px;color:#3a86ee;font-weight:400;">2.000.000</div>
<div class="t r" style="left:844px;top:178.49px;font-size:13.3px;line-height:20px;color:#3a86ee;font-weight:400;">2.000.000</div>
<div class="t r" style="left:964px;top:178.49px;font-size:13.3px;line-height:20px;color:#3a86ee;font-weight:400;">0</div>
<div class="t r" style="left:1114px;top:178.49px;font-size:13.3px;line-height:20px;color:#3a86ee;font-weight:400;">0</div>
<div class="t r" style="left:1264px;top:178.49px;font-size:13.3px;line-height:20px;color:#3a86ee;font-weight:400;">0</div>
<div class="t r" style="left:1394px;top:178.49px;font-size:13.3px;line-height:20px;color:#3a86ee;font-weight:400;">2.000.000</div>
<div class="t r" style="left:1524.4px;top:178.49px;font-size:13.3px;line-height:20px;color:#1f2633;font-weight:400;letter-spacing:.5px">29-08-2025 09:00</div>
<div style="position:absolute;left:1558px;top:168.00px;width:100px;height:55px;background:#fff"></div>
<div style="position:absolute;left:1574px;top:178.50px;width:32px;height:35px;background:#03a3ee;border-radius:4px"></div>
<div style="position:absolute;left:1610px;top:178.50px;width:32px;height:35px;background:#344aa8;border-radius:4px"></div>
<svg class="i" style="left:1574px;top:178.5px;width:32px;height:35px;color:#fff;" viewBox="0 0 32 35" fill="none" stroke="currentColor" stroke-width="1.05" stroke-linecap="round" stroke-linejoin="round"><rect x="14.3" y="12.1" width="3.7" height="3" rx=".8"/><path d="M16.15 15.1v3.5"/><path d="M12 18.7v-.4a1.3 1.3 0 0 1 1.3 -1.3h5.7a1.3 1.3 0 0 1 1.3 1.3v.4"/><circle cx="12" cy="20.2" r="1.4"/><circle cx="16.2" cy="20.2" r="1.4"/><circle cx="20.4" cy="20.2" r="1.4"/></svg>
<svg class="i" style="left:1610px;top:178.5px;width:32px;height:35px;color:#fff;" viewBox="0 0 32 35" fill="none" stroke="currentColor" stroke-width="1.2" stroke-linecap="round" stroke-linejoin="round"><rect x="10.5" y="16" width="7.8" height="6.8" rx="1.8"/><path d="M15.9 16v-2.3a2.7 2.7 0 0 1 5.4 -.6"/></svg>
<div style="position:absolute;left:0px;top:223.00px;width:1558px;height:56px;background:#ffffff"></div>
<div class="t r" style="left:14.699999999999989px;top:234.29px;font-size:13.3px;line-height:20px;color:#1f2633;font-weight:400;transform:translateX(-50%)">4</div>
<div class="t r" style="left:34.30000000000001px;top:234.29px;font-size:13.3px;line-height:20px;color:#1b5fe0;font-weight:400;">Nguyễn Thị Yến</div>
<svg class="i" style="left:135.690625px;top:236.89999999999998px;width:14px;height:14px;color:#8a94a3;" viewBox="0 0 14 14" fill="none" stroke="currentColor" stroke-width="1.1" stroke-linecap="round" stroke-linejoin="round"><rect x="1.2" y="1.2" width="8.6" height="8.6" rx="2.2"/><path d="M11.8 4.4a2.2 2.2 0 0 1 1.2 2v4.4a2.2 2.2 0 0 1 -2.2 2.2h-4.4a2.2 2.2 0 0 1 -2 -1.2"/></svg>
<div class="t r" style="left:234.10000000000002px;top:234.29px;font-size:13.3px;line-height:20px;color:#1f2633;font-weight:400;">0975121289</div>
<div class="t" style="left:364px;top:234.29px;font-size:13.3px;line-height:20px;color:#3547a8;font-weight:700;letter-spacing:-.25px">Triệt Up Toàn thân 2 – Diode – BHTĐ</div>
<div style="position:absolute;left:663.7px;top:235.10px;width:19.8px;height:20px;background:#3447a6;border-radius:50%"></div>
<div class="t" style="left:673.6px;top:239.00px;font-size:9.8px;line-height:12px;color:#fff;font-weight:700;transform:translateX(-50%)">1</div>
<div class="t r" style="left:724px;top:234.29px;font-size:13.3px;line-height:20px;color:#3a86ee;font-weight:400;">5.000.000</div>
<div class="t r" style="left:844px;top:234.29px;font-size:13.3px;line-height:20px;color:#3a86ee;font-weight:400;">5.000.000</div>
<div class="t r" style="left:964px;top:234.29px;font-size:13.3px;line-height:20px;color:#3a86ee;font-weight:400;">0</div>
<div class="t r" style="left:1114px;top:234.29px;font-size:13.3px;line-height:20px;color:#3a86ee;font-weight:400;">0</div>
<div class="t r" style="left:1264px;top:234.29px;font-size:13.3px;line-height:20px;color:#3a86ee;font-weight:400;">0</div>
<div class="t r" style="left:1394px;top:234.29px;font-size:13.3px;line-height:20px;color:#3a86ee;font-weight:400;">5.000.000</div>
<div class="t r" style="left:1524.4px;top:234.29px;font-size:13.3px;line-height:20px;color:#1f2633;font-weight:400;letter-spacing:.5px">29-08-2025 09:00</div>
<div style="position:absolute;left:1558px;top:223.00px;width:100px;height:56px;background:#fff"></div>
<div style="position:absolute;left:1574px;top:234.30px;width:32px;height:35px;background:#03a3ee;border-radius:4px"></div>
<div style="position:absolute;left:1610px;top:234.30px;width:32px;height:35px;background:#344aa8;border-radius:4px"></div>
<svg class="i" style="left:1574px;top:234.3px;width:32px;height:35px;color:#fff;" viewBox="0 0 32 35" fill="none" stroke="currentColor" stroke-width="1.05" stroke-linecap="round" stroke-linejoin="round"><rect x="14.3" y="12.1" width="3.7" height="3" rx=".8"/><path d="M16.15 15.1v3.5"/><path d="M12 18.7v-.4a1.3 1.3 0 0 1 1.3 -1.3h5.7a1.3 1.3 0 0 1 1.3 1.3v.4"/><circle cx="12" cy="20.2" r="1.4"/><circle cx="16.2" cy="20.2" r="1.4"/><circle cx="20.4" cy="20.2" r="1.4"/></svg>
<svg class="i" style="left:1610px;top:234.3px;width:32px;height:35px;color:#fff;" viewBox="0 0 32 35" fill="none" stroke="currentColor" stroke-width="1.2" stroke-linecap="round" stroke-linejoin="round"><rect x="10.5" y="16" width="7.8" height="6.8" rx="1.8"/><path d="M15.9 16v-2.3a2.7 2.7 0 0 1 5.4 -.6"/></svg>
<div style="position:absolute;left:0px;top:279.00px;width:1558px;height:56px;background:#f6f8fb"></div>
<div class="t r" style="left:14.699999999999989px;top:290.09px;font-size:13.3px;line-height:20px;color:#1f2633;font-weight:400;transform:translateX(-50%)">5</div>
<div class="t r" style="left:34.30000000000001px;top:290.09px;font-size:13.3px;line-height:20px;color:#1b5fe0;font-weight:400;">Nguyễn Thị Hải</div>
<svg class="i" style="left:132.22343750000005px;top:292.7px;width:14px;height:14px;color:#8a94a3;" viewBox="0 0 14 14" fill="none" stroke="currentColor" stroke-width="1.1" stroke-linecap="round" stroke-linejoin="round"><rect x="1.2" y="1.2" width="8.6" height="8.6" rx="2.2"/><path d="M11.8 4.4a2.2 2.2 0 0 1 1.2 2v4.4a2.2 2.2 0 0 1 -2.2 2.2h-4.4a2.2 2.2 0 0 1 -2 -1.2"/></svg>
<div class="t r" style="left:234.10000000000002px;top:290.09px;font-size:13.3px;line-height:20px;color:#1f2633;font-weight:400;">0988473285</div>
<div class="t" style="left:364px;top:290.09px;font-size:13.3px;line-height:20px;color:#3547a8;font-weight:700;letter-spacing:-.25px">Triệt Combo 1 – Diode – BHTĐ</div>
<div style="position:absolute;left:663.7px;top:290.90px;width:19.8px;height:20px;background:#3447a6;border-radius:50%"></div>
<div class="t" style="left:673.6px;top:294.80px;font-size:9.8px;line-height:12px;color:#fff;font-weight:700;transform:translateX(-50%)">1</div>
<div class="t r" style="left:724px;top:290.09px;font-size:13.3px;line-height:20px;color:#3a86ee;font-weight:400;">2.500.000</div>
<div class="t r" style="left:844px;top:290.09px;font-size:13.3px;line-height:20px;color:#3a86ee;font-weight:400;">2.500.000</div>
<div class="t r" style="left:964px;top:290.09px;font-size:13.3px;line-height:20px;color:#3a86ee;font-weight:400;">0</div>
<div class="t r" style="left:1114px;top:290.09px;font-size:13.3px;line-height:20px;color:#3a86ee;font-weight:400;">0</div>
<div class="t r" style="left:1264px;top:290.09px;font-size:13.3px;line-height:20px;color:#3a86ee;font-weight:400;">0</div>
<div class="t r" style="left:1394px;top:290.09px;font-size:13.3px;line-height:20px;color:#3a86ee;font-weight:400;">2.500.000</div>
<div class="t r" style="left:1524.4px;top:290.09px;font-size:13.3px;line-height:20px;color:#1f2633;font-weight:400;letter-spacing:.5px">29-08-2025 09:00</div>
<div style="position:absolute;left:1558px;top:279.00px;width:100px;height:56px;background:#fff"></div>
<div style="position:absolute;left:1574px;top:290.10px;width:32px;height:35px;background:#03a3ee;border-radius:4px"></div>
<div style="position:absolute;left:1610px;top:290.10px;width:32px;height:35px;background:#344aa8;border-radius:4px"></div>
<svg class="i" style="left:1574px;top:290.1px;width:32px;height:35px;color:#fff;" viewBox="0 0 32 35" fill="none" stroke="currentColor" stroke-width="1.05" stroke-linecap="round" stroke-linejoin="round"><rect x="14.3" y="12.1" width="3.7" height="3" rx=".8"/><path d="M16.15 15.1v3.5"/><path d="M12 18.7v-.4a1.3 1.3 0 0 1 1.3 -1.3h5.7a1.3 1.3 0 0 1 1.3 1.3v.4"/><circle cx="12" cy="20.2" r="1.4"/><circle cx="16.2" cy="20.2" r="1.4"/><circle cx="20.4" cy="20.2" r="1.4"/></svg>
<svg class="i" style="left:1610px;top:290.1px;width:32px;height:35px;color:#fff;" viewBox="0 0 32 35" fill="none" stroke="currentColor" stroke-width="1.2" stroke-linecap="round" stroke-linejoin="round"><rect x="10.5" y="16" width="7.8" height="6.8" rx="1.8"/><path d="M15.9 16v-2.3a2.7 2.7 0 0 1 5.4 -.6"/></svg>
<div style="position:absolute;left:0px;top:335.00px;width:1558px;height:56px;background:#ffffff"></div>
<div class="t r" style="left:14.699999999999989px;top:345.89px;font-size:13.3px;line-height:20px;color:#1f2633;font-weight:400;transform:translateX(-50%)">6</div>
<div class="t r" style="left:34.30000000000001px;top:345.89px;font-size:13.3px;line-height:20px;color:#1b5fe0;font-weight:400;">Nguyễn Chúc Anh</div>
<svg class="i" style="left:148.0109375px;top:348.5px;width:14px;height:14px;color:#8a94a3;" viewBox="0 0 14 14" fill="none" stroke="currentColor" stroke-width="1.1" stroke-linecap="round" stroke-linejoin="round"><rect x="1.2" y="1.2" width="8.6" height="8.6" rx="2.2"/><path d="M11.8 4.4a2.2 2.2 0 0 1 1.2 2v4.4a2.2 2.2 0 0 1 -2.2 2.2h-4.4a2.2 2.2 0 0 1 -2 -1.2"/></svg>
<div class="t r" style="left:234.10000000000002px;top:345.89px;font-size:13.3px;line-height:20px;color:#1f2633;font-weight:400;">0866892660</div>
<div class="t" style="left:364px;top:345.89px;font-size:13.3px;line-height:20px;color:#3547a8;font-weight:700;letter-spacing:-.25px">Tặng - mặt dưỡng</div>
<div style="position:absolute;left:663.7px;top:346.70px;width:19.8px;height:20px;background:#3447a6;border-radius:50%"></div>
<div class="t" style="left:673.6px;top:350.60px;font-size:9.8px;line-height:12px;color:#fff;font-weight:700;transform:translateX(-50%)">5</div>
<div class="t r" style="left:724px;top:345.89px;font-size:13.3px;line-height:20px;color:#3a86ee;font-weight:400;">0</div>
<div class="t r" style="left:844px;top:345.89px;font-size:13.3px;line-height:20px;color:#3a86ee;font-weight:400;">0</div>
<div class="t r" style="left:964px;top:345.89px;font-size:13.3px;line-height:20px;color:#3a86ee;font-weight:400;">0</div>
<div class="t r" style="left:1114px;top:345.89px;font-size:13.3px;line-height:20px;color:#3a86ee;font-weight:400;">0</div>
<div class="t r" style="left:1264px;top:345.89px;font-size:13.3px;line-height:20px;color:#3a86ee;font-weight:400;">0</div>
<div class="t r" style="left:1394px;top:345.89px;font-size:13.3px;line-height:20px;color:#3a86ee;font-weight:400;">0</div>
<div class="t r" style="left:1524.4px;top:345.89px;font-size:13.3px;line-height:20px;color:#1f2633;font-weight:400;letter-spacing:.5px">29-08-2025 09:00</div>
<div style="position:absolute;left:1558px;top:335.00px;width:100px;height:56px;background:#fff"></div>
<div style="position:absolute;left:1574px;top:345.90px;width:32px;height:35px;background:#03a3ee;border-radius:4px"></div>
<div style="position:absolute;left:1610px;top:345.90px;width:32px;height:35px;background:#344aa8;border-radius:4px"></div>
<svg class="i" style="left:1574px;top:345.90000000000003px;width:32px;height:35px;color:#fff;" viewBox="0 0 32 35" fill="none" stroke="currentColor" stroke-width="1.05" stroke-linecap="round" stroke-linejoin="round"><rect x="14.3" y="12.1" width="3.7" height="3" rx=".8"/><path d="M16.15 15.1v3.5"/><path d="M12 18.7v-.4a1.3 1.3 0 0 1 1.3 -1.3h5.7a1.3 1.3 0 0 1 1.3 1.3v.4"/><circle cx="12" cy="20.2" r="1.4"/><circle cx="16.2" cy="20.2" r="1.4"/><circle cx="20.4" cy="20.2" r="1.4"/></svg>
<svg class="i" style="left:1610px;top:345.90000000000003px;width:32px;height:35px;color:#fff;" viewBox="0 0 32 35" fill="none" stroke="currentColor" stroke-width="1.2" stroke-linecap="round" stroke-linejoin="round"><rect x="10.5" y="16" width="7.8" height="6.8" rx="1.8"/><path d="M15.9 16v-2.3a2.7 2.7 0 0 1 5.4 -.6"/></svg>
<div style="position:absolute;left:0px;top:391.00px;width:1558px;height:56px;background:#f6f8fb"></div>
<div class="t r" style="left:14.699999999999989px;top:401.69px;font-size:13.3px;line-height:20px;color:#1f2633;font-weight:400;transform:translateX(-50%)">7</div>
<div class="t r" style="left:34.30000000000001px;top:401.69px;font-size:13.3px;line-height:20px;color:#1b5fe0;font-weight:400;">Nguyễn Chúc Anh</div>
<svg class="i" style="left:148.0109375px;top:404.29999999999995px;width:14px;height:14px;color:#8a94a3;" viewBox="0 0 14 14" fill="none" stroke="currentColor" stroke-width="1.1" stroke-linecap="round" stroke-linejoin="round"><rect x="1.2" y="1.2" width="8.6" height="8.6" rx="2.2"/><path d="M11.8 4.4a2.2 2.2 0 0 1 1.2 2v4.4a2.2 2.2 0 0 1 -2.2 2.2h-4.4a2.2 2.2 0 0 1 -2 -1.2"/></svg>
<div class="t r" style="left:234.10000000000002px;top:401.69px;font-size:13.3px;line-height:20px;color:#1f2633;font-weight:400;">0866892660</div>
<div class="t" style="left:364px;top:401.69px;font-size:13.3px;line-height:20px;color:#3547a8;font-weight:700;letter-spacing:-.25px">LT Mini facial 10b</div>
<div style="position:absolute;left:663.7px;top:402.50px;width:19.8px;height:20px;background:#3447a6;border-radius:50%"></div>
<div class="t" style="left:673.6px;top:406.40px;font-size:9.8px;line-height:12px;color:#fff;font-weight:700;transform:translateX(-50%)">1</div>
<div class="t r" style="left:724px;top:401.69px;font-size:13.3px;line-height:20px;color:#3a86ee;font-weight:400;">3.000.000</div>
<div class="t r" style="left:844px;top:401.69px;font-size:13.3px;line-height:20px;color:#3a86ee;font-weight:400;">3.000.000</div>
<div class="t r" style="left:964px;top:401.69px;font-size:13.3px;line-height:20px;color:#3a86ee;font-weight:400;">0</div>
<div class="t r" style="left:1114px;top:401.69px;font-size:13.3px;line-height:20px;color:#3a86ee;font-weight:400;">0</div>
<div class="t r" style="left:1264px;top:401.69px;font-size:13.3px;line-height:20px;color:#3a86ee;font-weight:400;">0</div>
<div class="t r" style="left:1394px;top:401.69px;font-size:13.3px;line-height:20px;color:#3a86ee;font-weight:400;">3.000.000</div>
<div class="t r" style="left:1524.4px;top:401.69px;font-size:13.3px;line-height:20px;color:#1f2633;font-weight:400;letter-spacing:.5px">29-08-2025 09:00</div>
<div style="position:absolute;left:1558px;top:391.00px;width:100px;height:56px;background:#fff"></div>
<div style="position:absolute;left:1574px;top:401.70px;width:32px;height:35px;background:#03a3ee;border-radius:4px"></div>
<div style="position:absolute;left:1610px;top:401.70px;width:32px;height:35px;background:#344aa8;border-radius:4px"></div>
<svg class="i" style="left:1574px;top:401.69999999999993px;width:32px;height:35px;color:#fff;" viewBox="0 0 32 35" fill="none" stroke="currentColor" stroke-width="1.05" stroke-linecap="round" stroke-linejoin="round"><rect x="14.3" y="12.1" width="3.7" height="3" rx=".8"/><path d="M16.15 15.1v3.5"/><path d="M12 18.7v-.4a1.3 1.3 0 0 1 1.3 -1.3h5.7a1.3 1.3 0 0 1 1.3 1.3v.4"/><circle cx="12" cy="20.2" r="1.4"/><circle cx="16.2" cy="20.2" r="1.4"/><circle cx="20.4" cy="20.2" r="1.4"/></svg>
<svg class="i" style="left:1610px;top:401.69999999999993px;width:32px;height:35px;color:#fff;" viewBox="0 0 32 35" fill="none" stroke="currentColor" stroke-width="1.2" stroke-linecap="round" stroke-linejoin="round"><rect x="10.5" y="16" width="7.8" height="6.8" rx="1.8"/><path d="M15.9 16v-2.3a2.7 2.7 0 0 1 5.4 -.6"/></svg>
<div style="position:absolute;left:0px;top:447.00px;width:1558px;height:55px;background:#ffffff"></div>
<div class="t r" style="left:14.699999999999989px;top:457.49px;font-size:13.3px;line-height:20px;color:#1f2633;font-weight:400;transform:translateX(-50%)">8</div>
<div class="t r" style="left:34.30000000000001px;top:457.49px;font-size:13.3px;line-height:20px;color:#1b5fe0;font-weight:400;">Nguyễn Chúc Anh</div>
<svg class="i" style="left:148.0109375px;top:460.1px;width:14px;height:14px;color:#8a94a3;" viewBox="0 0 14 14" fill="none" stroke="currentColor" stroke-width="1.1" stroke-linecap="round" stroke-linejoin="round"><rect x="1.2" y="1.2" width="8.6" height="8.6" rx="2.2"/><path d="M11.8 4.4a2.2 2.2 0 0 1 1.2 2v4.4a2.2 2.2 0 0 1 -2.2 2.2h-4.4a2.2 2.2 0 0 1 -2 -1.2"/></svg>
<div class="t r" style="left:234.10000000000002px;top:457.49px;font-size:13.3px;line-height:20px;color:#1f2633;font-weight:400;">0866892660</div>
<div class="t" style="left:364px;top:457.49px;font-size:13.3px;line-height:20px;color:#3547a8;font-weight:700;letter-spacing:-.25px">Triệt Toàn thân 1 – Diode – Buổi lẻ</div>
<div style="position:absolute;left:663.7px;top:458.30px;width:19.8px;height:20px;background:#3447a6;border-radius:50%"></div>
<div class="t" style="left:673.6px;top:462.20px;font-size:9.8px;line-height:12px;color:#fff;font-weight:700;transform:translateX(-50%)">5</div>
<div class="t r" style="left:724px;top:457.49px;font-size:13.3px;line-height:20px;color:#3a86ee;font-weight:400;">1.500.000</div>
<div class="t r" style="left:844px;top:457.49px;font-size:13.3px;line-height:20px;color:#3a86ee;font-weight:400;">7.500.000</div>
<div class="t r" style="left:964px;top:457.49px;font-size:13.3px;line-height:20px;color:#3a86ee;font-weight:400;">7.500.000</div>
<div class="t r" style="left:1114px;top:457.49px;font-size:13.3px;line-height:20px;color:#3a86ee;font-weight:400;">0</div>
<div class="t r" style="left:1264px;top:457.49px;font-size:13.3px;line-height:20px;color:#3a86ee;font-weight:400;">0</div>
<div class="t r" style="left:1394px;top:457.49px;font-size:13.3px;line-height:20px;color:#3a86ee;font-weight:400;">0</div>
<div class="t r" style="left:1524.4px;top:457.49px;font-size:13.3px;line-height:20px;color:#1f2633;font-weight:400;letter-spacing:.5px">29-08-2025 09:00</div>
<div style="position:absolute;left:1558px;top:447.00px;width:100px;height:55px;background:#fff"></div>
<div style="position:absolute;left:1574px;top:457.50px;width:32px;height:35px;background:#03a3ee;border-radius:4px"></div>
<div style="position:absolute;left:1610px;top:457.50px;width:32px;height:35px;background:#344aa8;border-radius:4px"></div>
<svg class="i" style="left:1574px;top:457.5px;width:32px;height:35px;color:#fff;" viewBox="0 0 32 35" fill="none" stroke="currentColor" stroke-width="1.05" stroke-linecap="round" stroke-linejoin="round"><rect x="14.3" y="12.1" width="3.7" height="3" rx=".8"/><path d="M16.15 15.1v3.5"/><path d="M12 18.7v-.4a1.3 1.3 0 0 1 1.3 -1.3h5.7a1.3 1.3 0 0 1 1.3 1.3v.4"/><circle cx="12" cy="20.2" r="1.4"/><circle cx="16.2" cy="20.2" r="1.4"/><circle cx="20.4" cy="20.2" r="1.4"/></svg>
<svg class="i" style="left:1610px;top:457.5px;width:32px;height:35px;color:#fff;" viewBox="0 0 32 35" fill="none" stroke="currentColor" stroke-width="1.2" stroke-linecap="round" stroke-linejoin="round"><rect x="10.5" y="16" width="7.8" height="6.8" rx="1.8"/><path d="M15.9 16v-2.3a2.7 2.7 0 0 1 5.4 -.6"/></svg>
<div style="position:absolute;left:0px;top:502.00px;width:1558px;height:56px;background:#f6f8fb"></div>
<div class="t r" style="left:14.699999999999989px;top:513.29px;font-size:13.3px;line-height:20px;color:#1f2633;font-weight:400;transform:translateX(-50%)">9</div>
<div class="t r" style="left:34.30000000000001px;top:513.29px;font-size:13.3px;line-height:20px;color:#1b5fe0;font-weight:400;">Nguyễn Chúc Anh</div>
<svg class="i" style="left:148.0109375px;top:515.9000000000001px;width:14px;height:14px;color:#8a94a3;" viewBox="0 0 14 14" fill="none" stroke="currentColor" stroke-width="1.1" stroke-linecap="round" stroke-linejoin="round"><rect x="1.2" y="1.2" width="8.6" height="8.6" rx="2.2"/><path d="M11.8 4.4a2.2 2.2 0 0 1 1.2 2v4.4a2.2 2.2 0 0 1 -2.2 2.2h-4.4a2.2 2.2 0 0 1 -2 -1.2"/></svg>
<div class="t r" style="left:234.10000000000002px;top:513.29px;font-size:13.3px;line-height:20px;color:#1f2633;font-weight:400;">0866892660</div>
<div class="t" style="left:364px;top:513.29px;font-size:13.3px;line-height:20px;color:#3547a8;font-weight:700;letter-spacing:-.25px">Triệt Toàn thân 1 – Diode – Buổi lẻ</div>
<div style="position:absolute;left:663.7px;top:514.10px;width:19.8px;height:20px;background:#3447a6;border-radius:50%"></div>
<div class="t" style="left:673.6px;top:518.00px;font-size:9.8px;line-height:12px;color:#fff;font-weight:700;transform:translateX(-50%)">5</div>
<div class="t r" style="left:724px;top:513.29px;font-size:13.3px;line-height:20px;color:#3a86ee;font-weight:400;">1.500.000</div>
<div class="t r" style="left:844px;top:513.29px;font-size:13.3px;line-height:20px;color:#3a86ee;font-weight:400;">7.500.000</div>
<div class="t r" style="left:964px;top:513.29px;font-size:13.3px;line-height:20px;color:#3a86ee;font-weight:400;">7.500.000</div>
<div class="t r" style="left:1114px;top:513.29px;font-size:13.3px;line-height:20px;color:#3a86ee;font-weight:400;">0</div>
<div class="t r" style="left:1264px;top:513.29px;font-size:13.3px;line-height:20px;color:#3a86ee;font-weight:400;">0</div>
<div class="t r" style="left:1394px;top:513.29px;font-size:13.3px;line-height:20px;color:#3a86ee;font-weight:400;">0</div>
<div class="t r" style="left:1524.4px;top:513.29px;font-size:13.3px;line-height:20px;color:#1f2633;font-weight:400;letter-spacing:.5px">29-08-2025 09:00</div>
<div style="position:absolute;left:1558px;top:502.00px;width:100px;height:56px;background:#fff"></div>
<div style="position:absolute;left:1574px;top:513.30px;width:32px;height:35px;background:#03a3ee;border-radius:4px"></div>
<div style="position:absolute;left:1610px;top:513.30px;width:32px;height:35px;background:#344aa8;border-radius:4px"></div>
<svg class="i" style="left:1574px;top:513.3000000000001px;width:32px;height:35px;color:#fff;" viewBox="0 0 32 35" fill="none" stroke="currentColor" stroke-width="1.05" stroke-linecap="round" stroke-linejoin="round"><rect x="14.3" y="12.1" width="3.7" height="3" rx=".8"/><path d="M16.15 15.1v3.5"/><path d="M12 18.7v-.4a1.3 1.3 0 0 1 1.3 -1.3h5.7a1.3 1.3 0 0 1 1.3 1.3v.4"/><circle cx="12" cy="20.2" r="1.4"/><circle cx="16.2" cy="20.2" r="1.4"/><circle cx="20.4" cy="20.2" r="1.4"/></svg>
<svg class="i" style="left:1610px;top:513.3000000000001px;width:32px;height:35px;color:#fff;" viewBox="0 0 32 35" fill="none" stroke="currentColor" stroke-width="1.2" stroke-linecap="round" stroke-linejoin="round"><rect x="10.5" y="16" width="7.8" height="6.8" rx="1.8"/><path d="M15.9 16v-2.3a2.7 2.7 0 0 1 5.4 -.6"/></svg>
<div style="position:absolute;left:0px;top:558.00px;width:1558px;height:56px;background:#ffffff"></div>
<div class="t r" style="left:14.699999999999989px;top:569.09px;font-size:13.3px;line-height:20px;color:#1f2633;font-weight:400;transform:translateX(-50%)">10</div>
<div class="t r" style="left:34.30000000000001px;top:569.09px;font-size:13.3px;line-height:20px;color:#1b5fe0;font-weight:400;">Nguyễn Chúc Anh</div>
<svg class="i" style="left:148.0109375px;top:571.7px;width:14px;height:14px;color:#8a94a3;" viewBox="0 0 14 14" fill="none" stroke="currentColor" stroke-width="1.1" stroke-linecap="round" stroke-linejoin="round"><rect x="1.2" y="1.2" width="8.6" height="8.6" rx="2.2"/><path d="M11.8 4.4a2.2 2.2 0 0 1 1.2 2v4.4a2.2 2.2 0 0 1 -2.2 2.2h-4.4a2.2 2.2 0 0 1 -2 -1.2"/></svg>
<div class="t r" style="left:234.10000000000002px;top:569.09px;font-size:13.3px;line-height:20px;color:#1f2633;font-weight:400;">0866892660</div>
<div class="t" style="left:364px;top:569.09px;font-size:13.3px;line-height:20px;color:#3547a8;font-weight:700;letter-spacing:-.25px">Bảo hành Toàn Thân Diode</div>
<div style="position:absolute;left:663.7px;top:569.90px;width:19.8px;height:20px;background:#3447a6;border-radius:50%"></div>
<div class="t" style="left:673.6px;top:573.80px;font-size:9.8px;line-height:12px;color:#fff;font-weight:700;transform:translateX(-50%)">1</div>
<div class="t r" style="left:724px;top:569.09px;font-size:13.3px;line-height:20px;color:#3a86ee;font-weight:400;">0</div>
<div class="t r" style="left:844px;top:569.09px;font-size:13.3px;line-height:20px;color:#3a86ee;font-weight:400;">0</div>
<div class="t r" style="left:964px;top:569.09px;font-size:13.3px;line-height:20px;color:#3a86ee;font-weight:400;">0</div>
<div class="t r" style="left:1114px;top:569.09px;font-size:13.3px;line-height:20px;color:#3a86ee;font-weight:400;">0</div>
<div class="t r" style="left:1264px;top:569.09px;font-size:13.3px;line-height:20px;color:#3a86ee;font-weight:400;">0</div>
<div class="t r" style="left:1394px;top:569.09px;font-size:13.3px;line-height:20px;color:#3a86ee;font-weight:400;">0</div>
<div class="t r" style="left:1524.4px;top:569.09px;font-size:13.3px;line-height:20px;color:#1f2633;font-weight:400;letter-spacing:.5px">29-08-2025 09:00</div>
<div style="position:absolute;left:1558px;top:558.00px;width:100px;height:56px;background:#fff"></div>
<div style="position:absolute;left:1574px;top:569.10px;width:32px;height:35px;background:#03a3ee;border-radius:4px"></div>
<div style="position:absolute;left:1610px;top:569.10px;width:32px;height:35px;background:#344aa8;border-radius:4px"></div>
<svg class="i" style="left:1574px;top:569.1px;width:32px;height:35px;color:#fff;" viewBox="0 0 32 35" fill="none" stroke="currentColor" stroke-width="1.05" stroke-linecap="round" stroke-linejoin="round"><rect x="14.3" y="12.1" width="3.7" height="3" rx=".8"/><path d="M16.15 15.1v3.5"/><path d="M12 18.7v-.4a1.3 1.3 0 0 1 1.3 -1.3h5.7a1.3 1.3 0 0 1 1.3 1.3v.4"/><circle cx="12" cy="20.2" r="1.4"/><circle cx="16.2" cy="20.2" r="1.4"/><circle cx="20.4" cy="20.2" r="1.4"/></svg>
<svg class="i" style="left:1610px;top:569.1px;width:32px;height:35px;color:#fff;" viewBox="0 0 32 35" fill="none" stroke="currentColor" stroke-width="1.2" stroke-linecap="round" stroke-linejoin="round"><rect x="10.5" y="16" width="7.8" height="6.8" rx="1.8"/><path d="M15.9 16v-2.3a2.7 2.7 0 0 1 5.4 -.6"/></svg>
<div style="position:absolute;left:0px;top:614.00px;width:1558px;height:56px;background:#f6f8fb"></div>
<div class="t r" style="left:14.699999999999989px;top:624.89px;font-size:13.3px;line-height:20px;color:#1f2633;font-weight:400;transform:translateX(-50%)">11</div>
<div class="t r" style="left:34.30000000000001px;top:624.89px;font-size:13.3px;line-height:20px;color:#1b5fe0;font-weight:400;">Bui Van Anh</div>
<svg class="i" style="left:113.01875000000001px;top:627.5px;width:14px;height:14px;color:#8a94a3;" viewBox="0 0 14 14" fill="none" stroke="currentColor" stroke-width="1.1" stroke-linecap="round" stroke-linejoin="round"><rect x="1.2" y="1.2" width="8.6" height="8.6" rx="2.2"/><path d="M11.8 4.4a2.2 2.2 0 0 1 1.2 2v4.4a2.2 2.2 0 0 1 -2.2 2.2h-4.4a2.2 2.2 0 0 1 -2 -1.2"/></svg>
<div class="t r" style="left:234.10000000000002px;top:624.89px;font-size:13.3px;line-height:20px;color:#1f2633;font-weight:400;">0904923393</div>
<div class="t" style="left:364px;top:624.89px;font-size:13.3px;line-height:20px;color:#3547a8;font-weight:700;letter-spacing:-.25px">Bảo hành nách diode BHTD</div>
<div style="position:absolute;left:663.7px;top:625.70px;width:19.8px;height:20px;background:#3447a6;border-radius:50%"></div>
<div class="t" style="left:673.6px;top:629.60px;font-size:9.8px;line-height:12px;color:#fff;font-weight:700;transform:translateX(-50%)">1</div>
<div class="t r" style="left:724px;top:624.89px;font-size:13.3px;line-height:20px;color:#3a86ee;font-weight:400;">0</div>
<div class="t r" style="left:844px;top:624.89px;font-size:13.3px;line-height:20px;color:#3a86ee;font-weight:400;">0</div>
<div class="t r" style="left:964px;top:624.89px;font-size:13.3px;line-height:20px;color:#3a86ee;font-weight:400;">0</div>
<div class="t r" style="left:1114px;top:624.89px;font-size:13.3px;line-height:20px;color:#3a86ee;font-weight:400;">0</div>
<div class="t r" style="left:1264px;top:624.89px;font-size:13.3px;line-height:20px;color:#3a86ee;font-weight:400;">0</div>
<div class="t r" style="left:1394px;top:624.89px;font-size:13.3px;line-height:20px;color:#3a86ee;font-weight:400;">0</div>
<div class="t r" style="left:1524.4px;top:624.89px;font-size:13.3px;line-height:20px;color:#1f2633;font-weight:400;letter-spacing:.5px">29-08-2025 09:00</div>
<div style="position:absolute;left:1558px;top:614.00px;width:100px;height:56px;background:#fff"></div>
<div style="position:absolute;left:1574px;top:624.90px;width:32px;height:35px;background:#03a3ee;border-radius:4px"></div>
<div style="position:absolute;left:1610px;top:624.90px;width:32px;height:35px;background:#344aa8;border-radius:4px"></div>
<svg class="i" style="left:1574px;top:624.9px;width:32px;height:35px;color:#fff;" viewBox="0 0 32 35" fill="none" stroke="currentColor" stroke-width="1.05" stroke-linecap="round" stroke-linejoin="round"><rect x="14.3" y="12.1" width="3.7" height="3" rx=".8"/><path d="M16.15 15.1v3.5"/><path d="M12 18.7v-.4a1.3 1.3 0 0 1 1.3 -1.3h5.7a1.3 1.3 0 0 1 1.3 1.3v.4"/><circle cx="12" cy="20.2" r="1.4"/><circle cx="16.2" cy="20.2" r="1.4"/><circle cx="20.4" cy="20.2" r="1.4"/></svg>
<svg class="i" style="left:1610px;top:624.9px;width:32px;height:35px;color:#fff;" viewBox="0 0 32 35" fill="none" stroke="currentColor" stroke-width="1.2" stroke-linecap="round" stroke-linejoin="round"><rect x="10.5" y="16" width="7.8" height="6.8" rx="1.8"/><path d="M15.9 16v-2.3a2.7 2.7 0 0 1 5.4 -.6"/></svg>
<div style="position:absolute;left:0px;top:670.00px;width:1558px;height:56px;background:#ffffff"></div>
<div class="t r" style="left:14.699999999999989px;top:680.69px;font-size:13.3px;line-height:20px;color:#1f2633;font-weight:400;transform:translateX(-50%)">12</div>
<div class="t r" style="left:34.30000000000001px;top:680.69px;font-size:13.3px;line-height:20px;color:#1b5fe0;font-weight:400;">Nguyễn Văn A</div>
<svg class="i" style="left:125.83281250000005px;top:683.3px;width:14px;height:14px;color:#8a94a3;" viewBox="0 0 14 14" fill="none" stroke="currentColor" stroke-width="1.1" stroke-linecap="round" stroke-linejoin="round"><rect x="1.2" y="1.2" width="8.6" height="8.6" rx="2.2"/><path d="M11.8 4.4a2.2 2.2 0 0 1 1.2 2v4.4a2.2 2.2 0 0 1 -2.2 2.2h-4.4a2.2 2.2 0 0 1 -2 -1.2"/></svg>
<div class="t r" style="left:234.10000000000002px;top:680.69px;font-size:13.3px;line-height:20px;color:#1f2633;font-weight:400;">0904923393</div>
<div class="t" style="left:364px;top:680.69px;font-size:13.3px;line-height:20px;color:#3547a8;font-weight:700;letter-spacing:-.25px">Bảo hành</div>
<div style="position:absolute;left:663.7px;top:681.50px;width:19.8px;height:20px;background:#3447a6;border-radius:50%"></div>
<div class="t" style="left:673.6px;top:685.40px;font-size:9.8px;line-height:12px;color:#fff;font-weight:700;transform:translateX(-50%)">1</div>
<div class="t r" style="left:724px;top:680.69px;font-size:13.3px;line-height:20px;color:#3a86ee;font-weight:400;">0</div>
<div class="t r" style="left:844px;top:680.69px;font-size:13.3px;line-height:20px;color:#3a86ee;font-weight:400;">0</div>
<div class="t r" style="left:964px;top:680.69px;font-size:13.3px;line-height:20px;color:#3a86ee;font-weight:400;">0</div>
<div class="t r" style="left:1114px;top:680.69px;font-size:13.3px;line-height:20px;color:#3a86ee;font-weight:400;">0</div>
<div class="t r" style="left:1264px;top:680.69px;font-size:13.3px;line-height:20px;color:#3a86ee;font-weight:400;">0</div>
<div class="t r" style="left:1394px;top:680.69px;font-size:13.3px;line-height:20px;color:#3a86ee;font-weight:400;">0</div>
<div class="t r" style="left:1524.4px;top:680.69px;font-size:13.3px;line-height:20px;color:#1f2633;font-weight:400;letter-spacing:.5px">29-08-2025 09:00</div>
<div style="position:absolute;left:1558px;top:670.00px;width:100px;height:56px;background:#fff"></div>
<div style="position:absolute;left:1574px;top:680.70px;width:32px;height:35px;background:#03a3ee;border-radius:4px"></div>
<div style="position:absolute;left:1610px;top:680.70px;width:32px;height:35px;background:#344aa8;border-radius:4px"></div>
<svg class="i" style="left:1574px;top:680.6999999999999px;width:32px;height:35px;color:#fff;" viewBox="0 0 32 35" fill="none" stroke="currentColor" stroke-width="1.05" stroke-linecap="round" stroke-linejoin="round"><rect x="14.3" y="12.1" width="3.7" height="3" rx=".8"/><path d="M16.15 15.1v3.5"/><path d="M12 18.7v-.4a1.3 1.3 0 0 1 1.3 -1.3h5.7a1.3 1.3 0 0 1 1.3 1.3v.4"/><circle cx="12" cy="20.2" r="1.4"/><circle cx="16.2" cy="20.2" r="1.4"/><circle cx="20.4" cy="20.2" r="1.4"/></svg>
<svg class="i" style="left:1610px;top:680.6999999999999px;width:32px;height:35px;color:#fff;" viewBox="0 0 32 35" fill="none" stroke="currentColor" stroke-width="1.2" stroke-linecap="round" stroke-linejoin="round"><rect x="10.5" y="16" width="7.8" height="6.8" rx="1.8"/><path d="M15.9 16v-2.3a2.7 2.7 0 0 1 5.4 -.6"/></svg>
<div style="position:absolute;left:0px;top:112.00px;width:1658px;height:1px;background:#c9d4e2"></div>
<div style="position:absolute;left:0px;top:168.00px;width:1658px;height:1px;background:#c9d4e2"></div>
<div style="position:absolute;left:0px;top:223.00px;width:1658px;height:1px;background:#c9d4e2"></div>
<div style="position:absolute;left:0px;top:279.00px;width:1658px;height:1px;background:#c9d4e2"></div>
<div style="position:absolute;left:0px;top:335.00px;width:1658px;height:1px;background:#c9d4e2"></div>
<div style="position:absolute;left:0px;top:391.00px;width:1658px;height:1px;background:#c9d4e2"></div>
<div style="position:absolute;left:0px;top:447.00px;width:1658px;height:1px;background:#c9d4e2"></div>
<div style="position:absolute;left:0px;top:502.00px;width:1658px;height:1px;background:#c9d4e2"></div>
<div style="position:absolute;left:0px;top:558.00px;width:1658px;height:1px;background:#c9d4e2"></div>
<div style="position:absolute;left:0px;top:614.00px;width:1658px;height:1px;background:#c9d4e2"></div>
<div style="position:absolute;left:0px;top:670.00px;width:1658px;height:1px;background:#c9d4e2"></div>
<div style="position:absolute;left:0px;top:726.00px;width:1658px;height:1px;background:#c9d4e2"></div>
<div style="position:absolute;left:0px;top:0.00px;width:1658px;height:56.3px;background:#fff"></div>
<div style="position:absolute;left:0px;top:0.00px;width:1658px;height:1px;background:#c9d4e2"></div>
<div style="position:absolute;left:0px;top:56.00px;width:1658px;height:1px;background:#c9d4e2"></div>
<div class="t" style="left:11px;top:19.33px;font-size:13.2px;line-height:20px;color:#1a202c;font-weight:700;letter-spacing:-.15px">#</div>
<div class="t" style="left:34.30000000000001px;top:19.33px;font-size:13.2px;line-height:20px;color:#1a202c;font-weight:700;letter-spacing:-.15px">Khách hàng</div>
<div class="t" style="left:234.10000000000002px;top:19.33px;font-size:13.2px;line-height:20px;color:#1a202c;font-weight:700;letter-spacing:-.15px">Số điện thoại</div>
<div class="t" style="left:364px;top:19.33px;font-size:13.2px;line-height:20px;color:#1a202c;font-weight:700;letter-spacing:-.15px">Dịch vụ</div>
<div class="t" style="left:664px;top:10.73px;font-size:13.2px;line-height:20px;color:#1a202c;font-weight:700;letter-spacing:-.15px">SL</div>
<div class="t" style="left:664.8px;top:29.68px;font-size:11.3px;line-height:14px;color:#f01010;font-weight:700;font-style:italic">(1)</div>
<div class="t" style="left:724px;top:10.73px;font-size:13.2px;line-height:20px;color:#1a202c;font-weight:700;letter-spacing:-.15px">Đơn giá</div>
<div class="t" style="left:724.8px;top:29.68px;font-size:11.3px;line-height:14px;color:#f01010;font-weight:700;font-style:italic">(2)</div>
<div class="t" style="left:844px;top:10.73px;font-size:13.2px;line-height:20px;color:#1a202c;font-weight:700;letter-spacing:-.15px">Thành tiền</div>
<div class="t" style="left:844.8px;top:29.68px;font-size:11.3px;line-height:14px;color:#f01010;font-weight:700;font-style:italic">(3)</div>
<div class="t" style="left:964px;top:10.73px;font-size:13.2px;line-height:20px;color:#1a202c;font-weight:700;letter-spacing:-.15px">Chiết khấu dịch vụ</div>
<div class="t" style="left:964.8px;top:29.68px;font-size:11.3px;line-height:14px;color:#f01010;font-weight:700;font-style:italic">(4)</div>
<div class="t" style="left:1114px;top:10.73px;font-size:13.2px;line-height:20px;color:#1a202c;font-weight:700;letter-spacing:-.15px">Chiết khấu coupon</div>
<div class="t" style="left:1114.8px;top:29.68px;font-size:11.3px;line-height:14px;color:#f01010;font-weight:700;font-style:italic">(5)</div>
<div class="t" style="left:1264px;top:10.73px;font-size:13.2px;line-height:20px;color:#1a202c;font-weight:700;letter-spacing:-.15px">Giảm giá khác</div>
<div class="t" style="left:1264.8px;top:29.68px;font-size:11.3px;line-height:14px;color:#f01010;font-weight:700;font-style:italic">(6)</div>
<div class="t" style="left:1394px;top:10.73px;font-size:13.2px;line-height:20px;color:#1a202c;font-weight:700;letter-spacing:-.15px">Doanh số</div>
<div class="t" style="left:1394.8px;top:29.68px;font-size:11.3px;line-height:14px;color:#f01010;font-weight:700;font-style:italic;letter-spacing:.7px">(7)=3-4-5-6</div>
<div class="t" style="left:1524px;top:19.33px;font-size:13.2px;line-height:20px;color:#1a202c;font-weight:700;letter-spacing:-.15px">Ngày</div>
<div class="t" style="left:1603.5px;top:19.33px;font-size:13.2px;line-height:20px;color:#1a202c;font-weight:700;">#</div>
<div style="position:absolute;left:0px;top:647.20px;width:1658px;height:40.6px;background:#fff"></div>
<div style="position:absolute;left:0px;top:647.00px;width:1658px;height:1px;background:#c9d4e2"></div>
<div style="position:absolute;left:0px;top:687.00px;width:1658px;height:1px;background:#c9d4e2"></div>
<div class="t" style="left:1114px;top:657.76px;font-size:13.4px;line-height:20px;color:#2f7be8;font-weight:700;">0</div>
<div class="t" style="left:1264px;top:657.76px;font-size:13.4px;line-height:20px;color:#2f7be8;font-weight:700;">0</div>
<div class="t" style="left:1394px;top:657.76px;font-size:13.4px;line-height:20px;color:#2f7be8;font-weight:700;letter-spacing:.35px">131.400.000</div>
</div>
<div style="position:absolute;left:1890px;top:164px;width:15px;height:702px;background:#f8f8f8;z-index:2"></div>
<div style="position:absolute;left:1890px;top:164px;width:1px;height:687px;background:#e3e7ec;z-index:3"></div>
<div style="position:absolute;left:1894px;top:167px;width:8px;height:499px;background:#c1c1c1;border-radius:4px;z-index:3"></div>
<div style="position:absolute;left:232px;top:851px;width:1658px;height:15px;background:#f8f8f8;z-index:2"></div>
<div style="position:absolute;left:235px;top:855px;width:1556px;height:8px;background:#c1c1c1;border-radius:4px;z-index:3"></div>
<div class="t r" style="left:1502px;top:882.79px;font-size:13.6px;line-height:20px;color:#3d4555;font-weight:400;z-index:3">1-15 của 39</div>
<svg class="i" style="left:1584px;top:884px;width:14px;height:16px;color:#b8bec8;z-index:3" viewBox="0 0 14 16" fill="none" stroke="currentColor" stroke-width="1.2" stroke-linecap="round" stroke-linejoin="round"><path d="M6.5 4.5l-3 3.5l3 3.5M10.5 4.5l-3 3.5l3 3.5"/></svg>
<svg class="i" style="left:1620px;top:884px;width:14px;height:16px;color:#b8bec8;z-index:3" viewBox="0 0 14 16" fill="none" stroke="currentColor" stroke-width="1.2" stroke-linecap="round" stroke-linejoin="round"><path d="M8.5 4.5l-3 3.5l3 3.5"/></svg>
<div style="position:absolute;left:1647px;top:876px;width:32px;height:32px;border-radius:50%;background:#e3e6f3;z-index:3"></div>
<div class="t r" style="left:1663px;top:882.79px;font-size:13.6px;line-height:20px;color:#2b3990;font-weight:400;z-index:4;transform:translateX(-50%)">1</div>
<div class="t r" style="left:1698px;top:882.79px;font-size:13.6px;line-height:20px;color:#2d3748;font-weight:400;z-index:4;transform:translateX(-50%)">2</div>
<div class="t r" style="left:1734px;top:882.79px;font-size:13.6px;line-height:20px;color:#2d3748;font-weight:400;z-index:4;transform:translateX(-50%)">3</div>
<svg class="i" style="left:1762px;top:884px;width:14px;height:16px;color:#2d3748;z-index:3" viewBox="0 0 14 16" fill="none" stroke="currentColor" stroke-width="1.5" stroke-linecap="round" stroke-linejoin="round"><path d="M5.5 4.5l3 3.5l-3 3.5"/></svg>
<svg class="i" style="left:1798px;top:884px;width:14px;height:16px;color:#2d3748;z-index:3" viewBox="0 0 14 16" fill="none" stroke="currentColor" stroke-width="1.5" stroke-linecap="round" stroke-linejoin="round"><path d="M3.5 4.5l3 3.5l-3 3.5M7.5 4.5l3 3.5l-3 3.5"/></svg>
<div style="position:absolute;left:1825px;top:872px;width:67px;height:40.5px;border:1px solid #66768c;border-radius:4px;box-sizing:border-box;z-index:3"></div>
<div class="t r" style="left:1835.8px;top:882.79px;font-size:13.6px;line-height:20px;color:#1f2633;font-weight:400;z-index:4">15</div>
<svg class="i" style="left:1866px;top:885px;width:16px;height:14px;color:#1f2633;z-index:4" viewBox="0 0 16 14" fill="none" stroke="currentColor" stroke-width="1.5" stroke-linecap="round" stroke-linejoin="round"><path d="M3 4l5.2 5.2l5.2 -5.2"/></svg>
</body></html>
